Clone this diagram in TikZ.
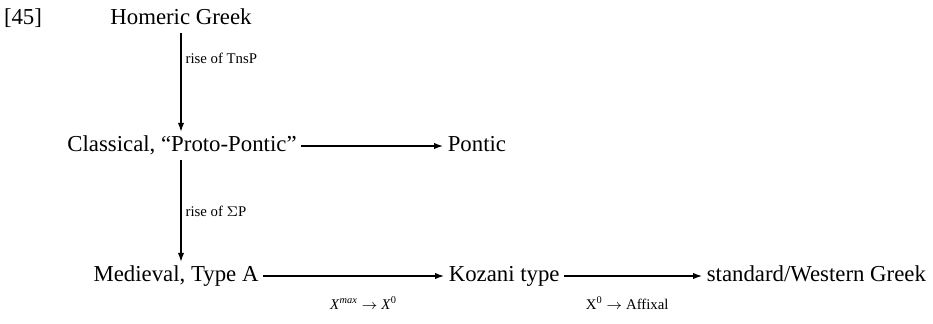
\documentclass[tikz,border=0pt]{standalone}
\usepackage{amsmath,amssymb}
\usepackage{fontspec}
\setmainfont{Liberation Serif}
\usepackage{tikz}
\usetikzlibrary{arrows.meta,calc,positioning}

\begin{document}
\begin{tikzpicture}[
  x=0.5pt,y=-0.5pt,
  >={Latex[length=4.5pt,width=3.2pt]},
  stage/.style={inner sep=2.2pt,text height=0.72em,text depth=0.22em,font=\fontsize{11.4}{14}\selectfont},
  change/.style={font=\fontsize{7.4}{9}\selectfont,inner sep=2pt},
  arrow/.style={->,line width=0.6pt}
]
  \useasboundingbox (0,0) rectangle (933,323);
  \node[stage] (num) at (23,19) {[45]};
  \node[stage] (homeric) at (181,19) {Homeric Greek};
  \node[stage] (classical) at (182,146) {Classical, ``Proto-Pontic''};
  \node[stage,anchor=west] (pontic) at (443,146) {Pontic};
  \node[stage] (medieval) at (176,276) {Medieval, Type A};
  \node[stage,anchor=west] (kozani) at (444,276) {Kozani type};
  \node[stage,anchor=west] (standard) at (702,276) {standard/Western Greek};
  \draw[arrow] (homeric.south -| 181,0) -- node[change,right,pos=0.26] {rise of TnsP} (classical.north -| 181,0);
  \draw[arrow] (classical.south -| 181,0) -- node[change,right,pos=0.5] {rise of $\Sigma$P} (medieval.north -| 181,0);
  \draw[arrow] (classical) -- (pontic);
  \draw[arrow] (medieval) -- node[change,below=8pt,xshift=5pt] {\textit{X}\textsuperscript{\textit{max}} $\rightarrow$ \textit{X}\textsuperscript{0}} (kozani);
  \draw[arrow] (kozani) -- node[change,below=8pt,xshift=-3pt] {X\textsuperscript{0} $\rightarrow$ Affixal} (standard);
\end{tikzpicture}
\end{document}
